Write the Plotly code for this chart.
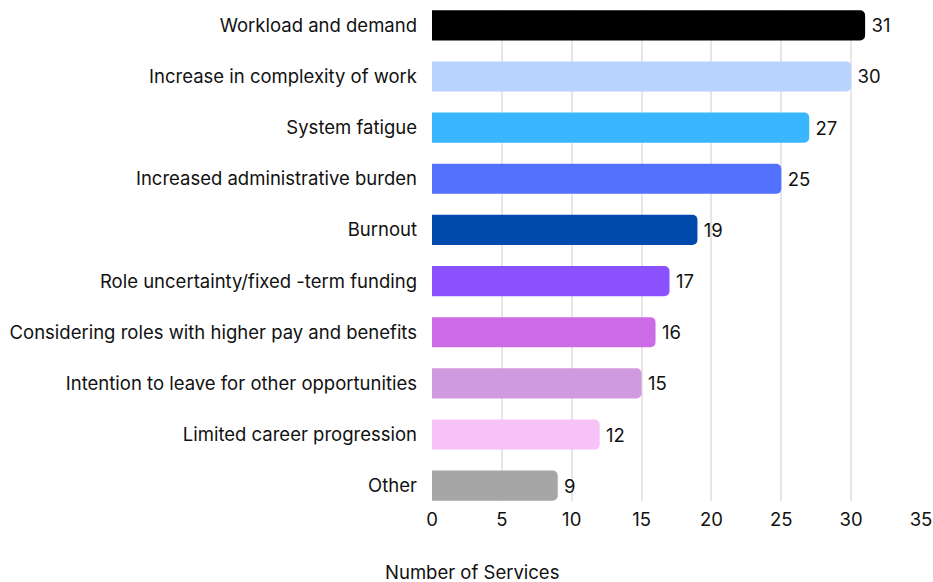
import plotly.graph_objects as go

categories = [
    "Workload and demand",
    "Increase in complexity of work",
    "System fatigue",
    "Increased administrative burden",
    "Burnout",
    "Role uncertainty/fixed -term funding",
    "Considering roles with higher pay and benefits",
    "Intention to leave for other opportunities",
    "Limited career progression",
    "Other",
]
values = [31, 30, 27, 25, 19, 17, 16, 15, 12, 9]
colors = [
    "#000000", "#b8d4fe", "#38b6ff", "#5271ff", "#004aad",
    "#8c52ff", "#cb6ce6", "#cf9ae0", "#f6c2f8", "#a6a6a6",
]
x_ticks = [0, 5, 10, 15, 20, 25, 30, 35]

W, H = 933, 582
ML, MR, MT, MB = 432, 12, 10, 81
FONT = dict(family="Inter", size=18.5, color="#111111")

fig = go.Figure(
    go.Bar(
        x=values,
        y=categories,
        orientation="h",
        marker=dict(color=colors, line=dict(width=0)),
        width=0.59,
        text=["\u2009" + str(v) for v in values],
        textposition="outside",
        textfont=FONT,
        cliponaxis=False,
    )
)

fig.update_layout(
    width=W,
    height=H,
    margin=dict(l=ML, r=MR, t=MT, b=MB, autoexpand=False),
    plot_bgcolor="white",
    paper_bgcolor="white",
    barcornerradius=5,
    font=FONT,
    showlegend=False,
    xaxis=dict(
        range=[0, 35],
        tickvals=x_ticks,
        showgrid=True,
        gridcolor="#e6e6e6",
        gridwidth=1.5,
        zeroline=False,
        showline=False,
        ticks="",
        ticklabelstandoff=5,
        tickfont=FONT,
        automargin=False,
    ),
    yaxis=dict(
        range=[len(categories) - 1 + 0.3, -0.3],
        showgrid=False,
        showline=False,
        ticks="",
        ticklabelstandoff=14,
        tickfont=FONT,
        automargin=False,
    ),
)

# axis title sits under the whole figure rather than centred on the plot area
plot_w = W - ML - MR
plot_h = H - MT - MB
fig.add_annotation(
    text="Number of Services",
    x=(472 - ML) / plot_w,
    y=-(572 - (H - MB)) / plot_h,
    xref="paper",
    yref="paper",
    xanchor="center",
    yanchor="middle",
    showarrow=False,
    font=FONT,
)

fig.write_html("out.html")
